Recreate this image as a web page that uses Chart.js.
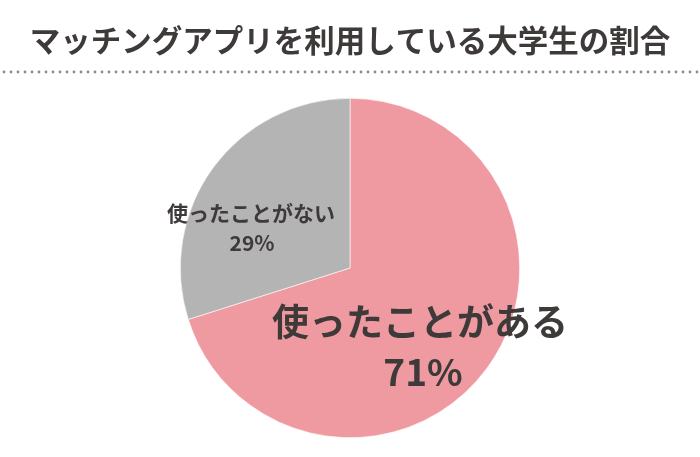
<!DOCTYPE html>
<html>
<head>
<meta charset="utf-8">
<script src="https://cdn.jsdelivr.net/npm/chart.js@4.4.0/dist/chart.umd.min.js"></script>
<style>
  html, body { margin: 0; padding: 0; background: #fff; }
  #wrap { width: 700px; height: 457px; position: relative; }
</style>
</head>
<body>
<div id="wrap"><canvas id="chart-area" width="700" height="457"></canvas></div>
<script>
  // data
  var titleText = 'マッチングアプリを利用している大学生の割合';
  var labels = ['使ったことがある', '使ったことがない'];
  var shares = [70.1, 29.9];          // slice sizes as drawn in the picture
  var percentLabels = ['71%', '29%']; // text printed on the slices
  var colors = ['#ef9aa1', '#b4b4b4'];

  var textColor = '#3e3a39';
  var jpFont = '"Noto Sans CJK JP", "Noto Sans", sans-serif';

  // title + dotted rule
  var headerPlugin = {
    id: 'header',
    beforeDraw: function (chart) {
      var ctx = chart.ctx;
      ctx.save();
      ctx.fillStyle = textColor;
      ctx.font = 'bold 30.5px ' + jpFont;
      ctx.textAlign = 'center';
      ctx.textBaseline = 'middle';
      ctx.fillText(titleText, 350, 40);
      ctx.fillStyle = '#8c8c8c';
      for (var x = 4; x < 700; x += 7) {
        ctx.beginPath();
        ctx.arc(x, 72, 1.4, 0, Math.PI * 2);
        ctx.fill();
      }
      ctx.restore();
    }
  };

  // slice labels
  var sliceLabels = {
    id: 'sliceLabels',
    afterDatasetsDraw: function (chart) {
      var ctx = chart.ctx;
      var arcs = chart.getDatasetMeta(0).data;
      var cx = arcs[0].x, cy = arcs[0].y;
      ctx.save();
      ctx.fillStyle = textColor;
      ctx.textAlign = 'center';
      ctx.textBaseline = 'middle';
      // big label
      ctx.font = 'bold 37px ' + jpFont;
      ctx.fillText(labels[0], cx + 70, cy + 54);
      ctx.fillText(percentLabels[0], cx + 73, cy + 104);
      // small label
      ctx.font = 'bold 21px ' + jpFont;
      ctx.fillText(labels[1], cx - 99, cy - 55);
      ctx.fillText(percentLabels[1], cx - 98, cy - 25);
      ctx.restore();
    }
  };

  var ctx = document.getElementById('chart-area').getContext('2d');
  window.myPie = new Chart(ctx, {
    type: 'pie',
    data: {
      labels: labels,
      datasets: [{
        data: shares,
        backgroundColor: colors,
        borderColor: '#ffffff',
        borderWidth: 0.6
      }]
    },
    options: {
      responsive: false,
      animation: false,
      layout: { padding: { top: 98, bottom: 19, left: 0, right: 0 } },
      plugins: {
        legend: { display: false },
        tooltip: { enabled: false },
        title: { display: false }
      }
    },
    plugins: [headerPlugin, sliceLabels]
  });
</script>
</body>
</html>
